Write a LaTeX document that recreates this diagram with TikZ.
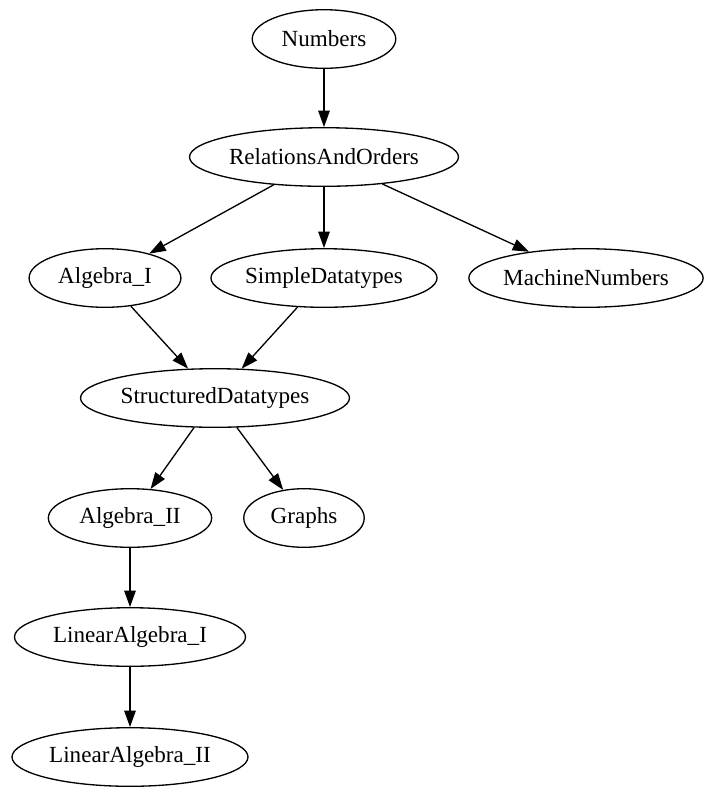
\documentclass[tikz,border=0pt]{standalone}
\usepackage{fontspec}
\setmainfont{Liberation Serif}
\usetikzlibrary{shapes.geometric,arrows.meta}
\begin{document}
\begin{tikzpicture}[x=0.606pt,y=-0.606pt,
  gnode/.style={draw,ellipse,line width=0.8pt,inner sep=0pt,minimum height=35.5pt,font=\fontsize{14pt}{16pt}\selectfont},
  edge/.style={draw,line width=0.8pt,-{Triangle[length=10pt,width=7pt]}}]
\useasboundingbox (0,0) rectangle (704,788);
\node[gnode,minimum width=87pt]  (num) at (324,39) {Numbers};
\node[gnode,minimum width=163pt] (rao) at (324,157) {RelationsAndOrders};
\node[gnode,minimum width=92pt]  (a1)  at (105,278) {Algebra\_I};
\node[gnode,minimum width=137pt] (sd)  at (324,278) {SimpleDatatypes};
\node[gnode,minimum width=142pt] (mn)  at (586,278) {MachineNumbers};
\node[gnode,minimum width=163pt] (std) at (215,398) {StructuredDatatypes};
\node[gnode,minimum width=99pt]  (a2)  at (130,518) {Algebra\_II};
\node[gnode,minimum width=73pt]  (gr)  at (304,518) {Graphs};
\node[gnode,minimum width=140pt] (la1) at (130,637) {LinearAlgebra\_I};
\node[gnode,minimum width=143pt] (la2) at (130,757) {LinearAlgebra\_II};
\draw[edge] (num) -- (rao);
\draw[edge] (rao) -- (a1);
\draw[edge] (rao) -- (sd);
\draw[edge] (rao) -- (mn);
\draw[edge] (a1) -- (std);
\draw[edge] (sd) -- (std);
\draw[edge] (std) -- (a2);
\draw[edge] (std) -- (gr);
\draw[edge] (a2) -- (la1);
\draw[edge] (la1) -- (la2);
\end{tikzpicture}
\end{document}
